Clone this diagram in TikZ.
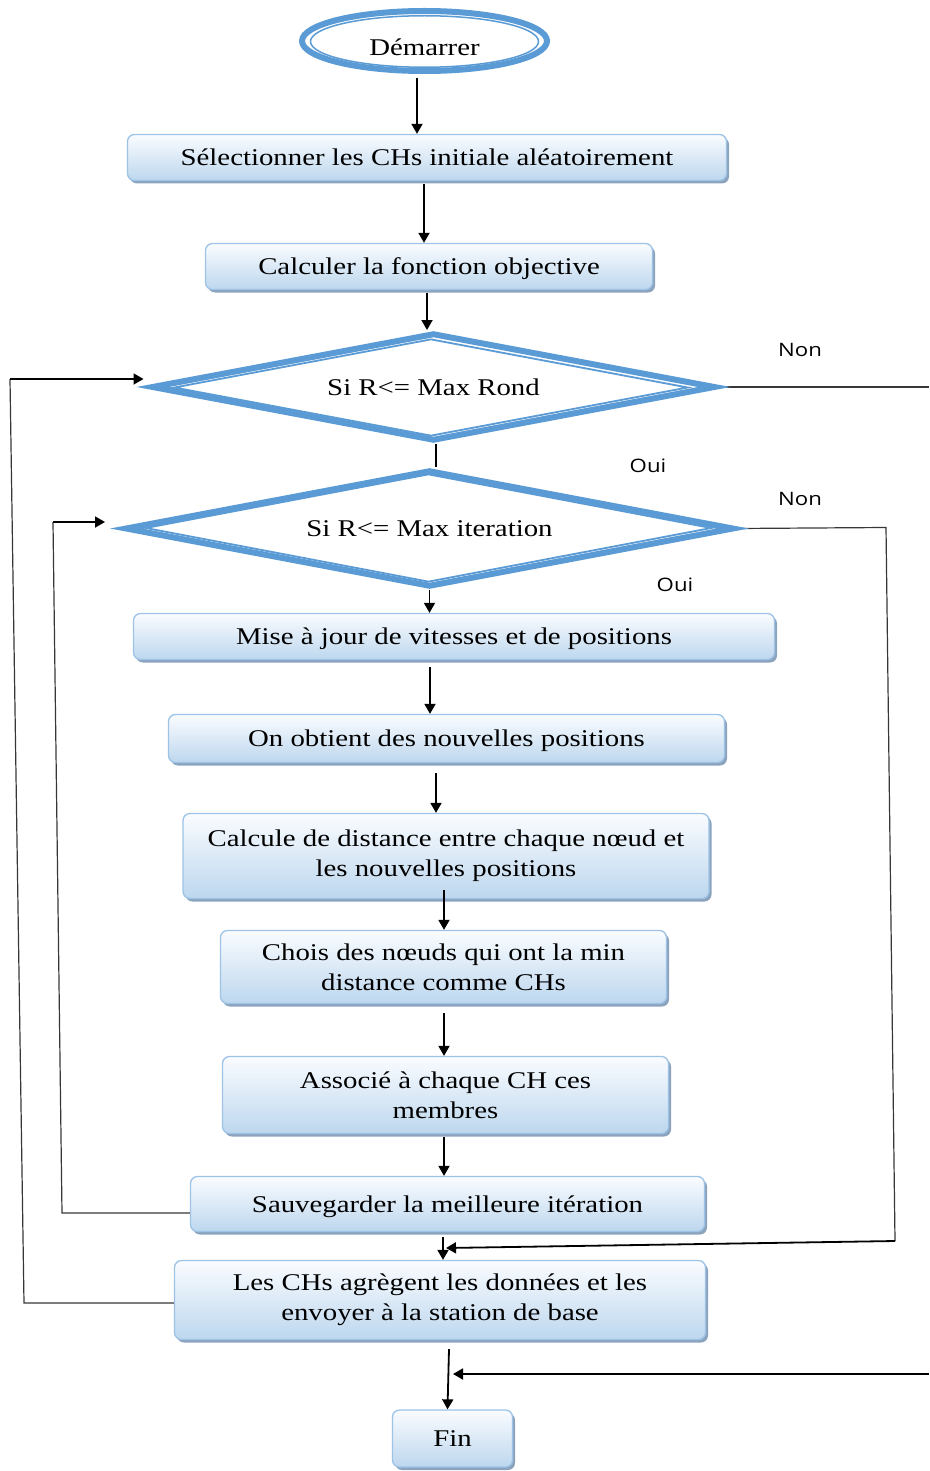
\documentclass[tikz,border=0pt]{standalone}
\usepackage{fontspec}
\setmainfont{Liberation Serif}[FakeStretch=1.2]
\newfontfamily\notefont{Open Sans}[FakeStretch=1.2]
\usetikzlibrary{shapes.geometric,shadows,arrows.meta,backgrounds}

\definecolor{flowblue}{RGB}{91,155,213}
\definecolor{boxline}{RGB}{157,195,230}
\definecolor{boxtop}{RGB}{250,252,255}
\definecolor{boxfill}{RGB}{189,215,238}
\definecolor{shadowc}{RGB}{140,163,190}
\definecolor{loopc}{RGB}{55,55,55}

\newcommand\boxfont{\fontsize{24}{30}\selectfont}
\newcommand\notesize{\notefont\fontsize{18.5}{22}\selectfont}

\begin{document}
\begin{tikzpicture}[x=1pt,y=-1pt,
  proc/.style={rectangle, rounded corners=7pt, draw=boxline, line width=1.3pt,
    top color=boxtop, bottom color=boxfill,
    drop shadow={shadow xshift=2.5pt, shadow yshift=-3pt, fill=shadowc, opacity=1, draw=none},
    align=center, font=\boxfont, inner sep=0pt},
  oneline/.style={text height=21pt, text depth=5pt},
  arr/.style={line width=1.8pt, -{Triangle[length=10pt,width=11pt]}},
  loopline/.style={line width=1.2pt, draw=loopc},
  lbl/.style={font=\notesize, text height=13pt, text depth=0pt, inner sep=0pt},
  decout/.style={diamond, draw=flowblue, line width=6pt, fill=white, inner sep=0pt,
    shape aspect=5, font=\boxfont},
  decin/.style={diamond, draw=flowblue, line width=1.8pt, inner sep=0pt, shape aspect=5},
]
\useasboundingbox (0,0) rectangle (929,1471);

% start terminal
\node[ellipse, draw=flowblue, line width=6pt, fill=white, minimum width=245pt, minimum height=60pt, inner sep=0pt] (start) at (424.5,41) {};
\node[ellipse, draw=flowblue, line width=1.5pt, minimum width=228pt, minimum height=51.5pt, inner sep=0pt] (startin) at (424.5,41.5) {};
\node[font=\boxfont, oneline, inner sep=0pt] (starttxt) at (424.5,48) {Démarrer};

% process boxes
\node[proc, oneline, minimum width=599pt, minimum height=46pt] (b1) at (427,157.5) {Sélectionner les CHs initiale aléatoirement};
\node[proc, oneline, minimum width=447pt, minimum height=46pt] (b2) at (429,266.5) {Calculer la fonction objective};

% decisions
\node[decout, oneline, minimum width=564pt, minimum height=108pt] (d1) at (433.5,387) {Si R<= Max Rond};
\node[decin, minimum width=514pt, minimum height=97pt] (d1in) at (431,387.5) {};
\node[decout, oneline, minimum width=609pt, minimum height=117pt] (d2) at (429.5,528.5) {Si R<= Max iteration};
\node[decin, minimum width=566pt, minimum height=108pt] (d2in) at (428.5,528) {};

\node[proc, oneline, minimum width=641pt, minimum height=46pt] (b3) at (454,636.5) {Mise à jour de vitesses et de positions};
\node[proc, oneline, minimum width=556pt, minimum height=48pt] (b4) at (446.5,738.5) {On obtient des nouvelles positions};
\node[proc, minimum width=526pt, minimum height=85pt] (b5) at (446,856) {Calcule de distance entre chaque nœud et\\les nouvelles positions};
\node[proc, minimum width=446pt, minimum height=73pt] (b6) at (443.5,967) {Chois des nœuds qui ont la min\\distance comme CHs};
\node[proc, minimum width=446pt, minimum height=77pt] (b7) at (445.5,1095) {Associé à chaque CH ces\\membres};
\node[proc, oneline, minimum width=514pt, minimum height=55pt] (b8) at (447.5,1204) {Sauvegarder la meilleure itération};
\node[proc, minimum width=531pt, minimum height=79pt] (b9) at (440,1300) {Les CHs agrègent les données et les\\envoyer à la station de base};
\node[proc, oneline, minimum width=120pt, minimum height=57pt] (fin) at (452.5,1438.5) {Fin};

% branch labels
\node[lbl] (non1) at (800,350) {Non};
\node[lbl] (oui1) at (648,466) {Oui};
\node[lbl] (non2) at (800,499) {Non};
\node[lbl] (oui2) at (675,585) {Oui};

% free ends of the side connectors
\coordinate (rA) at (886,527.5);
\coordinate (rB) at (895,1241);
\coordinate (rC) at (446,1248);
\coordinate (rEdge1) at (929,387);
\coordinate (rEdge2) at (929,1374);
\coordinate (rD) at (453,1374);
\coordinate (lA) at (24,1303);
\coordinate (lB) at (10,379);
\coordinate (lC) at (62,1213);
\coordinate (lD) at (53,522);

% main flow
\draw[arr] ([xshift=-7.5pt,yshift=-4pt]start.south) -- ([xshift=-7.5pt]start.south |- b1.north);
\draw[arr] ([xshift=-3pt,yshift=-3pt]b1.south) -- ([xshift=-3pt]b1.south |- b2.north);
\draw[arr] ([xshift=-2pt,yshift=-3pt]b2.south) -- ([xshift=-2pt]b2.south |- d1.north);
\draw[line width=1.8pt] ([xshift=2.5pt]d1.south) -- ([xshift=2.5pt]d1.south |- d2.north);
\draw[arr] (d2.south) -- (d2.south |- b3.north);
\draw[arr] ([xshift=-24pt,yshift=-7pt]b3.south) -- ([xshift=-24pt]b3.south |- b4.north);
\draw[arr] ([xshift=-10.5pt,yshift=-10pt]b4.south) -- ([xshift=-10.5pt]b4.south |- b5.north);
\draw[arr] ([xshift=-2pt,yshift=9pt]b5.south) -- ([xshift=-2pt]b5.south |- b6.north);
\draw[arr] ([xshift=0.5pt,yshift=-9pt]b6.south) -- ([xshift=0.5pt]b6.south |- b7.north);
\draw[arr] ([xshift=-1.5pt,yshift=-3pt]b7.south) -- ([xshift=-1.5pt]b7.south |- b8.north);
\draw[arr] ([xshift=-4.5pt,yshift=-5pt]b8.south) -- ([xshift=-4.5pt]b8.south |- b9.north);
\draw[arr] ([xshift=9pt,yshift=-9pt]b9.south) -- ([xshift=-5pt]fin.north);

% "Non" exits on the right
\begin{pgfonlayer}{background}
\draw[loopline] (d1.east) -- (rEdge1);
\draw[loopline] (d2.east) -- (rA) -- (rB);
\end{pgfonlayer}
\draw[arr] (rB) -- (rC);
\draw[arr] (rEdge2) -- (rD);

% loops back on the left
\draw[loopline] ([yshift=-3pt]b9.west) -- (lA) -- (lB);
\draw[arr] (lB) -- ([xshift=-5pt,yshift=8pt]d1.west);
\draw[loopline] ([yshift=-9pt]b8.west) -- (lC) -- (lD);
\draw[arr] (lD) -- ([xshift=-17pt,yshift=6.5pt]d2.west);
\end{tikzpicture}
\end{document}
